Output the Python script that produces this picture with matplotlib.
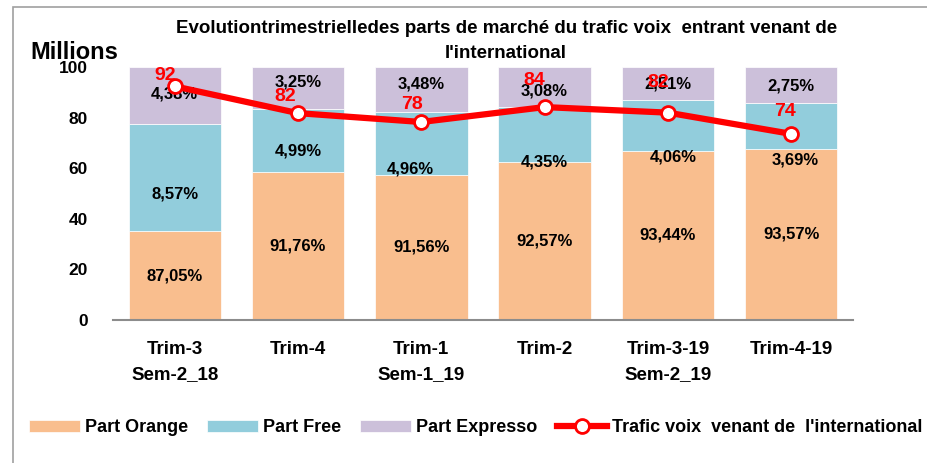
import matplotlib.pyplot as plt
import matplotlib.patches as mpatches
import numpy as np

# Données
trimestres = ["Trim-3\nSem-2_18", "Trim-4", "Trim-1\nSem-1_19", "Trim-2", "Trim-3-19\nSem-2_19", "Trim-4-19"]
part_orange = [35.0, 58.5, 57.4, 62.6, 66.9, 67.6]
part_free = [42.7, 24.9, 24.8, 21.7, 20.2, 18.3]
part_expresso = [22.3, 16.6, 17.8, 15.7, 12.9, 14.1]
trafic = [92.4, 81.8, 78.3, 84.2, 82.0, 73.6]

lbl_orange = ["87,05%", "91,76%", "91,56%", "92,57%", "93,44%", "93,57%"]
lbl_free = ["8,57%", "4,99%", "4,96%", "4,35%", "4,06%", "3,69%"]
lbl_expresso = ["4,38%", "3,25%", "3,48%", "3,08%", "2,51%", "2,75%"]
lbl_trafic = ["92", "82", "78", "84", "82", "74"]

# positions des étiquettes (placées à la main dans l'original)
y_free_lbl = [49.8, 66.9, 59.7, 62.6, 64.5, 63.2]
dx_free_lbl = [0, 0, -0.09, 0, 0.04, 0.03]
y_expr_lbl = [89.2, 94.2, 93.5, 90.6, 93.2, 92.5]
off_trafic = [(-10, 11), (-13, 17), (-9, 17), (-10, 27), (-10, 30), (-6, 22)]

plt.rcParams["font.family"] = ["Liberation Sans", "DejaVu Sans"]
plt.rcParams["font.weight"] = "bold"

c_orange = "#f9be8e"
c_free = "#92cddc"
c_expresso = "#ccc0da"
c_ligne = "#ff0000"

fig = plt.figure(figsize=(9.27, 4.63), dpi=100)
ax = fig.add_axes([0.122, 0.309, 0.798, 0.546])

x = np.arange(len(trimestres))
larg = 0.75
b1 = ax.bar(x, part_orange, larg, color=c_orange, edgecolor="white", linewidth=0.5, label="Part Orange")
b2 = ax.bar(x, part_free, larg, bottom=part_orange, color=c_free, edgecolor="white", linewidth=0.5, label="Part Free")
bas3 = np.array(part_orange) + np.array(part_free)
b3 = ax.bar(x, part_expresso, larg, bottom=bas3, color=c_expresso, edgecolor="white", linewidth=0.5, label="Part Expresso")

ln, = ax.plot(x, trafic, color=c_ligne, lw=4.5, marker="o", ms=10, mfc="white", mec=c_ligne, mew=2,
              label="Trafic voix  venant de  l'international", zorder=5)

for i in range(len(x)):
    ax.text(x[i], part_orange[i] / 2, lbl_orange[i], ha="center", va="center", fontsize=12, fontweight="bold")
    ax.text(x[i] + dx_free_lbl[i], y_free_lbl[i], lbl_free[i], ha="center", va="center", fontsize=12, fontweight="bold")
    ax.text(x[i], y_expr_lbl[i], lbl_expresso[i], ha="center", va="center", fontsize=12, fontweight="bold", zorder=4)
    ax.annotate(lbl_trafic[i], (x[i], trafic[i]), xytext=off_trafic[i], textcoords="offset pixels",
                ha="center", va="center", color=c_ligne, fontsize=14, fontweight="bold", zorder=6)

ax.set_xlim(-0.5, 5.5)
ax.set_ylim(0, 100)
ax.set_yticks(range(0, 101, 20))
ax.set_xticks(x)
ax.set_xticklabels(trimestres, fontsize=13.5, fontweight="bold", linespacing=1.65)
ax.tick_params(axis="y", length=0, labelsize=12.5, pad=18)
ax.tick_params(axis="x", length=0, pad=15)
for s in ["top", "right", "left"]:
    ax.spines[s].set_visible(False)
ax.spines["bottom"].set_color("#8c8c8c")
ax.spines["bottom"].set_linewidth(1.5)

fig.text(0.546, 0.9395, "Evolutiontrimestriellede" + "s parts de marché du trafic voix  entrant venant de",
         ha="center", va="center", fontsize=13.5, fontweight="bold")
fig.text(0.546, 0.8855, "l'international", ha="center", va="center", fontsize=13.5, fontweight="bold")
fig.text(0.033, 0.886, "Millions", ha="left", va="center", fontsize=17, fontweight="bold")

# cadre du graphique
cadre = mpatches.Rectangle((13 / 927, -0.1), 1.2, 1 - 7 / 463 + 0.1, transform=fig.transFigure,
                           fill=False, edgecolor="#a0a0a0", linewidth=1.2)
fig.patches.append(cadre)

leg = fig.legend(handles=[b1, b2, b3, ln], loc="center left", bbox_to_anchor=(0.014, 0.076), ncol=4,
                 frameon=False, handlelength=2.8, handleheight=0.7, handletextpad=0.3,
                 columnspacing=1.05, prop={"weight": "bold", "size": 13})

fig.savefig("out.png", dpi=100)
